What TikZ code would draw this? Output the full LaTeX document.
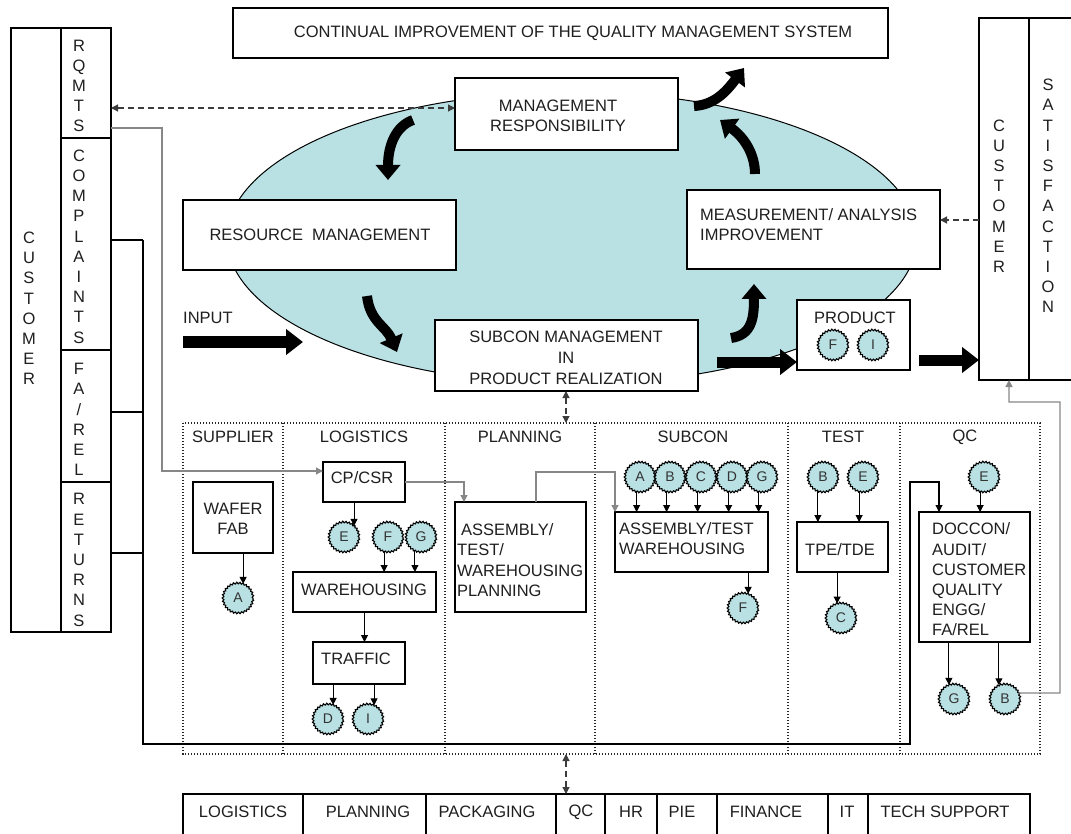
\documentclass[tikz,border=0pt]{standalone}
\usepackage{fontspec}
\setmainfont{Liberation Sans}
\usetikzlibrary{arrows.meta,decorations.pathmorphing,calc}

\definecolor{qcyan}{RGB}{185,225,228}
\definecolor{qgray}{RGB}{135,135,135}
\definecolor{qdash}{RGB}{60,60,60}

\tikzset{
  box/.style={draw, line width=1.1pt, fill=white, inner sep=0pt, outer sep=0pt, anchor=north west},
  lbl/.style={font=\fontsize{16.5}{20.5}\selectfont, inner sep=0pt, text=black!88},
  stack/.style={font=\fontsize{16.5}{20.2}\selectfont, align=center, inner sep=0pt, text=black!88},
  lstack/.style={font=\fontsize{16.5}{20.2}\selectfont, align=left, inner sep=0pt, anchor=west, text=black!88},
  tag/.style={circle, draw, fill=qcyan, minimum size=30pt, inner sep=0pt, outer sep=0pt, line width=1.1pt,
    font=\fontsize{14}{14}\selectfont, text=black!80,
    decorate, decoration={zigzag, segment length=3.2pt, amplitude=0.8pt}},
  flow/.style={-{Triangle[length=7pt,width=7pt]}, line width=1pt},
  gflow/.style={-{Triangle[length=7pt,width=7pt]}, line width=1.3pt, draw=qgray},
  wire/.style={line width=1.1pt},
  big/.style={line width=11pt, -{Triangle[length=17pt,width=25pt]}},
  bigc/.style={line width=10pt, -{Triangle[length=15pt,width=24pt]}},
  dbl/.style={dash pattern=on 6pt off 4pt, line width=1.1pt, draw=qdash,
    {Triangle[length=7pt,width=7pt]}-{Triangle[length=7pt,width=7pt]}},
  sgl/.style={dash pattern=on 6pt off 4pt, line width=1.1pt, draw=qdash, -{Triangle[length=7pt,width=7pt]}},
  dots/.style={line width=1.3pt, dash pattern=on 1.2pt off 1.8pt, draw=black!85}
}

\begin{document}
\begin{tikzpicture}[x=1pt,y=-1pt]
\useasboundingbox (0,0) rectangle (1071,834);
\clip (0,0) rectangle (1071,834);

% ---------- the process cycle ----------
\draw[fill=qcyan, line width=1pt] (572,238) ellipse [x radius=345, y radius=146];

\node[box, minimum width=655pt, minimum height=50pt] (top) at (233,8) {};
\node[lbl] (ttop) at (573,33) {CONTINUAL IMPROVEMENT OF THE QUALITY MANAGEMENT SYSTEM};

\node[box, minimum width=223pt, minimum height=72pt] (mr) at (455,78) {};
\node[stack] (tmr) at (558,116) {MANAGEMENT\\RESPONSIBILITY};

\node[box, minimum width=273pt, minimum height=70pt] (res) at (183,200) {};
\node[lbl] (tres) at (320,235) {RESOURCE\ \ MANAGEMENT};

\node[box, minimum width=253pt, minimum height=79pt] (meas) at (687,190) {};
\node[lstack] (tmeas) at (700,225) {MEASUREMENT/ ANALYSIS\\IMPROVEMENT};

\node[box, minimum width=263pt, minimum height=71pt] (sub) at (435,320) {};
\node[stack, font=\fontsize{16.5}{21}\selectfont] (tsub) at (566,358) {SUBCON MANAGEMENT\\IN\\PRODUCT REALIZATION};

\node[box, minimum width=113pt, minimum height=70pt] (prod) at (797,300) {};
\node[lbl] (tprod) at (855,318) {PRODUCT};
\node[tag] (pF) at (833,345) {F};
\node[tag] (pI) at (873,345) {I};

% ---------- customer columns ----------
\node[box, minimum width=50pt, minimum height=604pt] (custL) at (11,28) {};
\node[box, minimum width=50pt, minimum height=110pt] (rqmts) at (61,28) {};
\node[box, minimum width=50pt, minimum height=212pt] (compl) at (61,138) {};
\node[box, minimum width=50pt, minimum height=132pt] (fa) at (61,350) {};
\node[box, minimum width=50pt, minimum height=150pt] (ret) at (61,482) {};
\node[stack] (tcustL) at (29,308.5) {C\\U\\S\\T\\O\\M\\E\\R};
\node[stack] (trq) at (79,86) {R\\Q\\M\\T\\S};
\node[stack] (tco) at (79,246.5) {C\\O\\M\\P\\L\\A\\I\\N\\T\\S};
\node[stack] (tfa) at (79,419.5) {F\\A\\/\\R\\E\\L};
\node[stack] (tre) at (79,560) {R\\E\\T\\U\\R\\N\\S};

\node[box, minimum width=50pt, minimum height=362pt] (custR) at (979,18) {};
\node[box, minimum width=46pt, minimum height=362pt] (sat) at (1029,18) {};
\node[stack] (tcustR) at (999,196) {C\\U\\S\\T\\O\\M\\E\\R};
\node[stack] (tsat) at (1048,196) {S\\A\\T\\I\\S\\F\\A\\C\\T\\I\\O\\N};

\draw[dbl] (rqmts.east |- 0,108) -- (mr.west |- 0,108);
\draw[sgl] (custR.west |- 0,220) -- (meas.east |- 0,220);

% ---------- input / output arrows ----------
\node[lbl, anchor=west] (tin) at (183,318) {INPUT};
\coordinate (inS) at (183,342);
\coordinate (inE) at (303,342);
\coordinate (subOut) at (717,362);
\coordinate (prodOut) at (919,360);
\draw[big] (inS) -- (inE);
\draw[big] (subOut) -- (prod.west |- subOut);
\draw[big] (prodOut) -- (custR.west |- prodOut);

% curved cycle arrows
\draw[bigc] (413,120) .. controls (396,126) and (388,145) .. (388,180);
\draw[bigc] (367,296) .. controls (370,322) and (386,326) .. (397,352);
\draw[bigc] (731,338) .. controls (752,335) and (754,318) .. (754,284);
\draw[bigc] (755,174) .. controls (755,155) and (745,138) .. (720,120);
\draw[bigc] (694,106) .. controls (714,105) and (726,92) .. (744,68);

% ---------- functional lanes ----------
\coordinate (dotTL) at (183,423);
\coordinate (dotBR) at (1040,754);
\draw[dots] (dotTL) rectangle (dotBR);
\foreach \x in {283,445,595,788,900} \draw[dots] (\x,423) -- (\x,754);

\node[lbl] (hSup) at (233,437) {SUPPLIER};
\node[lbl] (hLog) at (364,437) {LOGISTICS};
\node[lbl] (hPla) at (520,437) {PLANNING};
\node[lbl] (hSub) at (693,437) {SUBCON};
\node[lbl] (hTes) at (843,437) {TEST};
\node[lbl] (hQC)  at (965,437) {QC};

\coordinate (dotTop) at (566,423);
\coordinate (dotBot) at (566,754);
\draw[dbl] (sub.south -| dotTop) -- (dotTop);

% supplier
\node[box, minimum width=80pt, minimum height=71pt] (wafer) at (193,482) {};
\node[stack] (twafer) at (233,519) {WAFER\\FAB};
\node[tag] (sA) at (238,598) {A};
\draw[flow] (wafer.south -| sA.70) -- (sA.70);

% logistics
\node[box, minimum width=82pt, minimum height=40pt] (cpcsr) at (323,462) {};
\node[lbl] (tcp) at (362,478) {CP/CSR};
\node[tag] (lE) at (344,537) {E};
\node[tag] (lF) at (388,537) {F};
\node[tag] (lG) at (421,537) {G};
\node[box, minimum width=143pt, minimum height=40pt] (wareh) at (293,572) {};
\node[lbl] (twh) at (364,590) {WAREHOUSING};
\node[box, minimum width=92pt, minimum height=42pt] (traffic) at (313,642) {};
\node[lbl] (ttr) at (356,659) {TRAFFIC};
\node[tag] (lD) at (328,719) {D};
\node[tag] (lI) at (368,719) {I};
\draw[flow] (cpcsr.south -| lE.48) -- (lE.48);
\draw[flow] (lF.-105) -- (lF.-105 |- wareh.north);
\draw[flow] (lG.-114) -- (lG.-114 |- wareh.north);
\draw[flow] (wareh.south) -- (wareh.south |- traffic.north);
\draw[flow] (traffic.south -| lD.70) -- (lD.70);
\draw[flow] (traffic.south -| lI.66) -- (lI.66);

% planning
\node[box, minimum width=131pt, minimum height=110pt] (plan) at (455,502) {};
\node[lstack] (tplan) at (457,560) {\hspace{4pt}ASSEMBLY/\\TEST/\\WAREHOUSING\\PLANNING};

% subcon
\node[box, minimum width=153pt, minimum height=60pt] (asm) at (615,512) {};
\node[lstack] (tasm) at (619,539) {ASSEMBLY/TEST\\WAREHOUSING};
\node[tag] (uA) at (640,477) {A};
\node[tag] (uB) at (670,477) {B};
\node[tag] (uC) at (701,477) {C};
\node[tag] (uD) at (732,477) {D};
\node[tag] (uG) at (762,477) {G};
\foreach \c in {uA,uB,uC,uD,uG} \draw[flow] (\c.-103) -- (\c.-103 |- asm.north);
\node[tag] (uF) at (743,608) {F};
\draw[flow] (asm.south -| uF.70) -- (uF.70);

% test
\node[box, minimum width=91pt, minimum height=50pt] (tpe) at (797,522) {};
\node[lbl] (ttpe) at (840,550) {TPE/TDE};
\node[tag] (tB) at (823,477) {B};
\node[tag] (tE) at (863,477) {E};
\node[tag] (tC) at (841,618) {C};
\draw[flow] (tB.-110) -- (tB.-110 |- tpe.north);
\draw[flow] (tE.-105) -- (tE.-105 |- tpe.north);
\draw[flow] (tpe.south -| tC.105) -- (tC.105);

% qc
\node[box, minimum width=111pt, minimum height=130pt] (doc) at (919,512) {};
\node[lstack] (tdoc) at (932,579.5) {DOCCON/\\AUDIT/\\CUSTOMER\\QUALITY\\ENGG/\\FA/REL};
\node[tag] (qE) at (984,477) {E};
\node[tag] (qG) at (954,699) {G};
\node[tag] (qB) at (1005,699) {B};
\draw[flow] (qE.-105) -- (qE.-105 |- doc.north);
\draw[flow] (doc.south -| qG.110) -- (qG.110);
\draw[flow] (doc.south -| qB.114) -- (qB.114);

% ---------- feedback wiring ----------
\draw[gflow] (rqmts.east |- 0,128) -| (162,471) -- (cpcsr.west |- 0,471);
\draw[gflow] (cpcsr.east) -| ($(plan.north west)+(9,0)$);
\draw[gflow] (plan.north -| 536,0) |- (615,472) -- (asm.north west);
\draw[gflow] (qB.24) -- (1060,693) |- (1009,402) -- (custR.south -| 1009,0);

\draw[wire] (compl.east |- 0,240) -- (143,240);
\draw[wire] (fa.east |- 0,412) -- (143,412);
\draw[wire] (ret.east |- 0,553) -- (143,553);
\draw[wire, -{Triangle[length=7pt,width=7pt]}] (143,240) -- (143,744) -- (910,744) -- (910,482) -- (939,482) -- (doc.north -| 939,0);

% ---------- support functions ----------
\node[box, minimum width=120pt, minimum height=50pt] (bLog) at (183,794) {};
\node[box, minimum width=123pt, minimum height=50pt] (bPla) at (303,794) {};
\node[box, minimum width=130pt, minimum height=50pt] (bPac) at (426,794) {};
\node[box, minimum width=49pt, minimum height=50pt] (bQC) at (556,794) {};
\node[box, minimum width=52pt, minimum height=50pt] (bHR) at (605,794) {};
\node[box, minimum width=60pt, minimum height=50pt] (bPIE) at (657,794) {};
\node[box, minimum width=111pt, minimum height=50pt] (bFin) at (717,794) {};
\node[box, minimum width=40pt, minimum height=50pt] (bIT) at (828,794) {};
\node[box, minimum width=162pt, minimum height=50pt] (bTech) at (868,794) {};
\node[lbl] (lLog) at (243,812) {LOGISTICS};
\node[lbl] (lPla) at (368,812) {PLANNING};
\node[lbl] (lPac) at (487,812) {PACKAGING};
\node[lbl] (lQC) at (581,812) {QC};
\node[lbl] (lHR) at (631,812) {HR};
\node[lbl] (lPIE) at (682,812) {PIE};
\node[lbl] (lFin) at (766,812) {FINANCE};
\node[lbl] (lIT) at (847,812) {IT};
\node[lbl] (lTech) at (945,812) {TECH SUPPORT};

\draw[dbl] (dotBot) -- (dotBot |- bQC.north);
\end{tikzpicture}
\end{document}
